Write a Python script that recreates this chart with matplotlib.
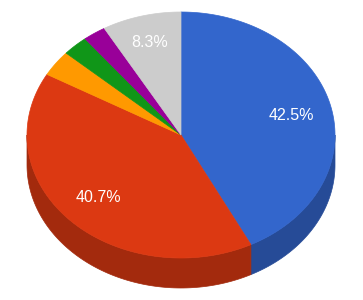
import numpy as np
import matplotlib
matplotlib.use("Agg")
import matplotlib.pyplot as plt
from matplotlib.patches import Polygon

labels = ["A", "B", "C", "D", "E", "F"]
values = [42.5, 40.7, 3.4, 2.7, 2.4, 8.3]
colors = ["#3366cc", "#dc3912", "#ff9900", "#109618", "#990099", "#cccccc"]
show_label = [True, True, False, False, False, True]

W, H = 363, 300
cx, cy, rx, ry, depth = 181, 135, 154, 123, 30

def darken(c, f=0.74):
    r, g, b = matplotlib.colors.to_rgb(c)
    return (r * f, g * f, b * f)

def pt(a, dy=0.0, s=1.0):
    # a: degrees clockwise from 12 o'clock
    t = np.radians(a)
    return cx + s * rx * np.sin(t), cy - s * ry * np.cos(t) + dy

fig = plt.figure(figsize=(W / 100, H / 100), dpi=100)
ax = fig.add_axes([0, 0, 1, 1])
ax.set_xlim(0, W)
ax.set_ylim(H, 0)
ax.axis("off")

total = sum(values)
angles = np.cumsum([0] + [v / total * 360 for v in values])

# side walls (front half: 90..270 deg)
for i, c in enumerate(colors):
    a0, a1 = max(angles[i], 90), min(angles[i + 1], 270)
    if a1 <= a0:
        continue
    ts = np.linspace(a0, a1, 100)
    top = [pt(t) for t in ts]
    bot = [pt(t, depth) for t in ts[::-1]]
    ax.add_patch(Polygon(top + bot, closed=True, facecolor=darken(c),
                         edgecolor=darken(c), linewidth=0.5))

# top faces
for i, c in enumerate(colors):
    ts = np.linspace(angles[i], angles[i + 1], 200)
    pts = [(cx, cy)] + [pt(t) for t in ts]
    ax.add_patch(Polygon(pts, closed=True, facecolor=c, edgecolor=c, linewidth=0.5))

# labels
label_pos = {0: (291.5, 115.5), 1: (98, 197), 5: (149.5, 42.5)}
for i, v in enumerate(values):
    if show_label[i]:
        mid = (angles[i] + angles[i + 1]) / 2
        x, y = label_pos[i]
        ax.text(x, y, f"{v:.1f}%", color="white", fontsize=11.5,
                family="Liberation Sans", ha="center", va="center")

fig.savefig("out.png", dpi=100)
